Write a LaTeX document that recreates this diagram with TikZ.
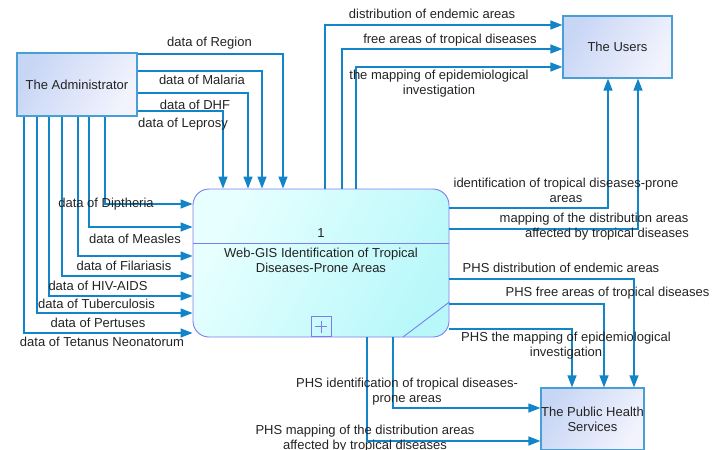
\documentclass[tikz,border=0pt]{standalone}
\usepackage{fontspec}
\setmainfont{Liberation Sans}
\usetikzlibrary{arrows.meta}

\definecolor{flowc}{RGB}{18,132,200}
\definecolor{entdraw}{RGB}{70,160,215}
\definecolor{entA}{RGB}{200,214,245}
\definecolor{entB}{RGB}{242,243,253}
\definecolor{procdraw}{RGB}{125,125,240}
\definecolor{procA}{RGB}{232,255,255}
\definecolor{procB}{RGB}{185,248,250}
\definecolor{txt}{RGB}{35,35,35}

\begin{document}
\begin{tikzpicture}[x=1pt, y=-1pt,
    every node/.style={font=\fontsize{13}{15}\selectfont, text=txt},
    entity/.style={rectangle, draw=entdraw, line width=1.2pt,
                   left color=entA, right color=entB, shading angle=60,
                   align=center, inner sep=0pt},
    process/.style={rectangle, draw=procdraw, line width=0.9pt, rounded corners=16pt,
                    left color=procA, right color=procB, shading angle=60,
                    minimum width=256pt, minimum height=148pt, inner sep=0pt},
    flow/.style={-{Triangle[length=12pt, width=9pt]}, draw=flowc, line width=1.3pt},
    lbl/.style={align=center, inner sep=0pt}
]
    \useasboundingbox (0,0) rectangle (724,450);

    % boxes
    \node[entity, minimum width=120pt, minimum height=63pt] (admin) at (77,84.5) {The Administrator};
    \node[entity, minimum width=109pt, minimum height=62pt] (users) at (617.5,47) {The Users};
    \node[entity, minimum width=103pt, minimum height=62pt] (phs) at (592.5,419) {The Public Health\\Services};
    \node[process] (proc) at (321,263) {};
    \draw[procdraw, line width=0.9pt] (proc.west |- 0,243) -- (proc.east |- 0,243);
    \draw[procdraw, line width=0.9pt] (403,337) -- (proc.east |- 0,302);
    \node[lbl] (procnum) at (321,233) {1};
    \node[lbl] (proctitle) at (321,260.5) {Web-GIS Identification of Tropical\\Diseases-Prone Areas};
    \node[rectangle, draw=procdraw, line width=0.9pt, minimum size=20pt, inner sep=0pt,
          anchor=south] (plusbox) at (321,337) {};
    \draw[procdraw, line width=0.8pt] (plusbox.center) ++(-6,0) -- ++(12,0)
          (plusbox.center) ++(0,-6) -- ++(0,12);

    % administrator -> process (top)
    \draw[flow] (admin.east |- 0,54) -| (proc.north -| 283,0);
    \draw[flow] (admin.east |- 0,71) -| (proc.north -| 262,0);
    \draw[flow] (admin.east |- 0,93) -| (proc.north -| 248,0);
    \draw[flow] (admin.east |- 0,111) -| (proc.north -| 223,0);
    \node[lbl] at (209.5,43) {data of Region};
    \node[lbl] at (202,80) {data of Malaria};
    \node[lbl] at (195,105) {data of DHF};
    \node[lbl] at (183,124) {data of Leprosy};

    % administrator -> process (left)
    \draw[flow] (admin.south -| 105,0) |- (proc.west |- 0,204);
    \draw[flow] (admin.south -| 89,0) |- (proc.west |- 0,227);
    \draw[flow] (admin.south -| 78,0) |- (proc.west |- 0,256);
    \draw[flow] (admin.south -| 62,0) |- (proc.west |- 0,276);
    \draw[flow] (admin.south -| 49,0) |- (proc.west |- 0,296);
    \draw[flow] (admin.south -| 37,0) |- (proc.west |- 0,313);
    \draw[flow] (admin.south -| 24,0) |- (proc.west |- 0,333);
    \node[lbl] at (106,204) {data of Diptheria};
    \node[lbl] at (135,239) {data of Measles};
    \node[lbl] at (124,266) {data of Filariasis};
    \node[lbl] at (98,286) {data of HIV-AIDS};
    \node[lbl] at (96.5,304) {data of Tuberculosis};
    \node[lbl] at (98,323) {data of Pertuses};
    \node[lbl] at (102,342) {data of Tetanus Neonatorum};

    % process -> users
    \draw[flow] (proc.north -| 325,0) |- (users.west |- 0,25);
    \draw[flow] (proc.north -| 342,0) |- (users.west |- 0,49);
    \draw[flow] (proc.north -| 356,0) |- (users.west |- 0,67);
    \draw[flow] (proc.east |- 0,208) -| (users.south -| 608,0);
    \draw[flow] (proc.east |- 0,229) -| (users.south -| 638,0);
    \node[lbl] at (432,14) {distribution of endemic areas};
    \node[lbl] at (450,40) {free areas of tropical diseases};
    \node[lbl] at (439,84) {the mapping of epidemiological\\investigation};
    \node[lbl] at (566,190.5) {identification of tropical diseases-prone\\areas};
    \node[lbl] at (594,227) {mapping of the distribution areas\\\hspace*{2em}affected by tropical diseases};

    % process -> public health services
    \draw[flow] (proc.east |- 0,279) -| (phs.north -| 634,0);
    \draw[flow] (proc.east |- 0,304) -| (phs.north -| 604,0);
    \draw[flow] (proc.east |- 0,329) -| (phs.north -| 572,0);
    \draw[flow] (proc.south -| 393,0) |- (phs.west |- 0,408);
    \draw[flow] (proc.south -| 367,0) |- (phs.west |- 0,441);
    \node[lbl] at (561,268) {PHS distribution of endemic areas};
    \node[lbl] at (607.5,293) {PHS free areas of tropical diseases};
    \node[lbl] at (566,346) {PHS the mapping of epidemiological\\investigation};
    \node[lbl] at (407,392) {PHS identification of tropical diseases-\\prone areas};
    \node[lbl] at (365,439) {PHS mapping of the distribution areas\\affected by tropical diseases};
\end{tikzpicture}
\end{document}
